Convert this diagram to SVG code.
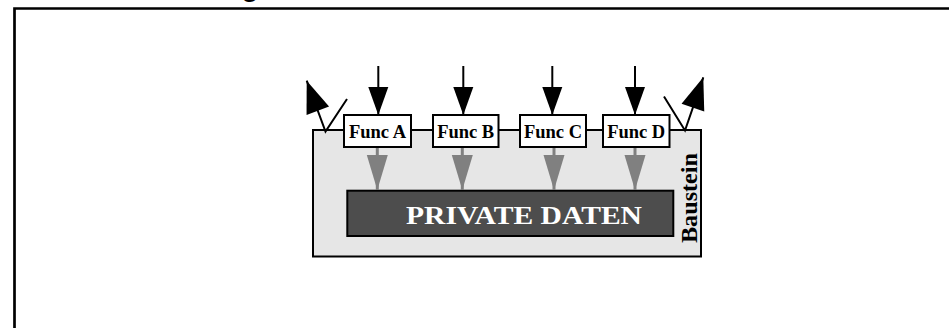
<svg xmlns="http://www.w3.org/2000/svg" width="949" height="328" viewBox="0 0 949 328">
<style>
.frame{fill:none;stroke:#000;stroke-width:2.7}
.box{stroke:#000;stroke-width:2}
.func{fill:#fff}
.ft{font-family:"Liberation Serif",serif;font-weight:bold;font-size:18.5px;fill:#000;text-anchor:middle}
.blk{stroke:#000;stroke-width:2;fill:none}
.gry{stroke:#808080;stroke-width:3;fill:none}
</style>
<defs>
<marker id="ah" markerUnits="userSpaceOnUse" markerWidth="30" markerHeight="22" refX="28" refY="10" orient="auto" overflow="visible">
<path d="M0,0 L28,10 L0,20 z" fill="#000"/>
</marker>
<marker id="ahb" markerUnits="userSpaceOnUse" markerWidth="34" markerHeight="26" refX="32" refY="12" orient="auto" overflow="visible">
<path d="M0,0 L32,12 L0,24 z" fill="#000"/>
</marker>
<marker id="ag" markerUnits="userSpaceOnUse" markerWidth="36" markerHeight="22" refX="35" refY="10.5" orient="auto" overflow="visible">
<path d="M0,0 L35,10.5 L0,21 z" fill="#808080"/>
</marker>
</defs>
<path class="frame" d="M14.5,328 V8.5 H949"/>
<text x="250" y="-4" font-family="Liberation Sans,sans-serif" font-weight="bold" font-size="28" text-anchor="middle">g</text>
<g id="baustein">
<rect class="box" x="313" y="130" width="388" height="126.5" fill="#e6e6e6"/>
<text transform="translate(696.5,243) rotate(-90)" font-family="Liberation Serif,serif" font-weight="bold" font-size="24" textLength="90" lengthAdjust="spacingAndGlyphs">Baustein</text>
</g>
<g id="private">
<rect class="box" x="347.3" y="190.7" width="326" height="45.3" fill="#4d4d4d"/>
<text x="406" y="224" font-family="Liberation Serif,serif" font-weight="bold" font-size="25" fill="#fff" textLength="236" lengthAdjust="spacingAndGlyphs">PRIVATE DATEN</text>
</g>
<g id="funcA"><rect class="box func" x="344" y="115" width="67" height="32"/><text class="ft" x="377.5" y="138.3">Func A</text></g>
<g id="funcB"><rect class="box func" x="433" y="115" width="65.5" height="32"/><text class="ft" x="465.7" y="138.3">Func B</text></g>
<g id="funcC"><rect class="box func" x="520" y="115" width="66" height="32"/><text class="ft" x="553" y="138.3">Func C</text></g>
<g id="funcD"><rect class="box func" x="603" y="115" width="66.5" height="32"/><text class="ft" x="636.2" y="138.3">Func D</text></g>
<g id="connectors">
<line class="blk" x1="378.3" y1="66" x2="378.3" y2="115" marker-end="url(#ah)"/>
<line class="blk" x1="463.3" y1="66" x2="463.3" y2="115" marker-end="url(#ah)"/>
<line class="blk" x1="552.3" y1="66" x2="552.3" y2="115" marker-end="url(#ah)"/>
<line class="blk" x1="635" y1="66" x2="635" y2="115" marker-end="url(#ah)"/>
<line class="gry" x1="377.3" y1="148" x2="377.3" y2="190" marker-end="url(#ag)"/>
<line class="gry" x1="462.3" y1="148" x2="462.3" y2="190" marker-end="url(#ag)"/>
<line class="gry" x1="554" y1="148" x2="554" y2="190" marker-end="url(#ag)"/>
<line class="gry" x1="635" y1="148" x2="635" y2="190" marker-end="url(#ag)"/>
<polyline class="blk" points="347,99 325.5,131.5 306.7,80.7" marker-end="url(#ahb)"/>
<polyline class="blk" points="664,96.5 685,130.5 703.3,77.3" marker-end="url(#ahb)"/>
</g>
</svg>
